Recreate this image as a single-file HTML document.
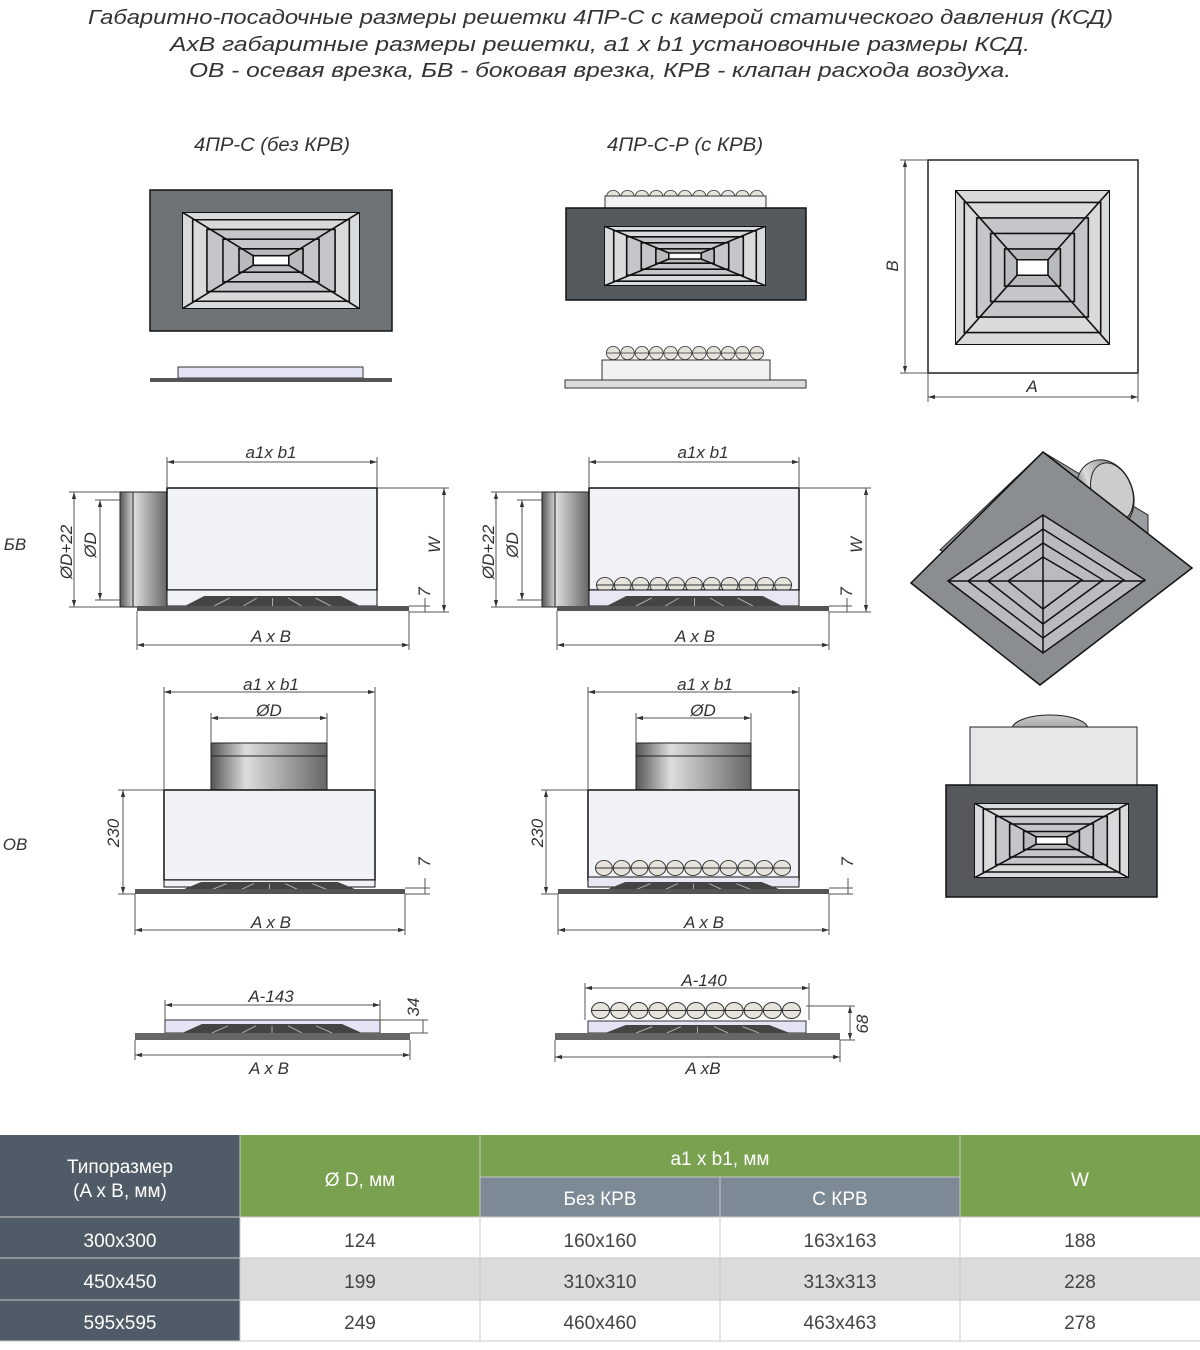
<!DOCTYPE html>
<html><head><meta charset="utf-8"><style>
html,body{margin:0;padding:0;background:#fff}
svg{display:block}
text{font-family:"Liberation Sans","DejaVu Sans",sans-serif}
.it{font-style:italic;fill:#333}
</style></head><body>
<svg width="1200" height="1350" viewBox="0 0 1200 1350" xmlns="http://www.w3.org/2000/svg">
<defs>
<symbol id="pyr" viewBox="0 0 100 100" preserveAspectRatio="none">
 <rect x="0" y="0" width="100" height="100" fill="#d9dadc" stroke="#111" stroke-width="2" vector-effect="non-scaling-stroke"/>
 <g fill="none" stroke="#111" stroke-width="1.6" vector-effect="non-scaling-stroke">
  <rect x="6" y="8" width="88" height="84" vector-effect="non-scaling-stroke"/>
  <rect x="14" y="18" width="72" height="64" fill="#c4c6c9" vector-effect="non-scaling-stroke"/>
  <rect x="23" y="28" width="54" height="44" vector-effect="non-scaling-stroke"/>
  <rect x="32" y="38" width="36" height="24" fill="#b8babd" vector-effect="non-scaling-stroke"/>
  <rect x="40" y="45" width="20" height="10" fill="#fff" vector-effect="non-scaling-stroke"/>
  <path d="M0 0L40 45M100 0L60 45M0 100L40 55M100 100L60 55" vector-effect="non-scaling-stroke"/>
 </g>
</symbol>
<symbol id="balls" viewBox="0 0 198 18" preserveAspectRatio="none">
 <g fill="#e6e2dc" stroke="#333" stroke-width="1" vector-effect="non-scaling-stroke">
  <circle cx="9" cy="9" r="8.5"/><circle cx="27" cy="9" r="8.5"/><circle cx="45" cy="9" r="8.5"/><circle cx="63" cy="9" r="8.5"/><circle cx="81" cy="9" r="8.5"/><circle cx="99" cy="9" r="8.5"/><circle cx="117" cy="9" r="8.5"/><circle cx="135" cy="9" r="8.5"/><circle cx="153" cy="9" r="8.5"/><circle cx="171" cy="9" r="8.5"/><circle cx="189" cy="9" r="8.5"/>
  <path d="M0 9H198" fill="none"/>
 </g>
</symbol>
<symbol id="slats" viewBox="0 0 100 10" preserveAspectRatio="none">
 <path d="M5 10L15 0H85L95 10Z" fill="#444"/>
 <path d="M20 10L28 2M35 10L42 2M50 10V2M65 10L58 2M80 10L72 2" stroke="#aaa" stroke-width="1" vector-effect="non-scaling-stroke"/>
</symbol>
<linearGradient id="pipe" x1="0" y1="0" x2="1" y2="0">
 <stop offset="0" stop-color="#555"/><stop offset="0.3" stop-color="#ddd"/><stop offset="0.6" stop-color="#aaa"/><stop offset="1" stop-color="#666"/>
</linearGradient>
<linearGradient id="pipev" x1="0" y1="0" x2="0" y2="1">
 <stop offset="0" stop-color="#ccc"/><stop offset="1" stop-color="#777"/>
</linearGradient>
<marker id="ar" viewBox="0 0 10 10" refX="10" refY="5" markerWidth="7" markerHeight="7" orient="auto-start-reverse"><path d="M0 2L10 5L0 8Z" fill="#333"/></marker>
</defs>

<!-- Titles -->
<g font-size="20" fill="#444">
<text x="88" y="24" class="it" textLength="1025" lengthAdjust="spacingAndGlyphs">Габаритно-посадочные размеры решетки 4ПР-С с камерой статического давления (КСД)</text>
<text x="170" y="51" class="it" textLength="860" lengthAdjust="spacingAndGlyphs">АхВ габаритные размеры решетки, а1 х b1 установочные размеры КСД.</text>
<text x="189" y="77" class="it" textLength="822" lengthAdjust="spacingAndGlyphs">ОВ - осевая врезка, БВ - боковая врезка, КРВ - клапан расхода воздуха.</text>
</g>
<text x="194" y="151" class="it" font-size="19" textLength="156" lengthAdjust="spacingAndGlyphs">4ПР-С (без КРВ)</text>
<text x="607" y="151" class="it" font-size="19" textLength="156" lengthAdjust="spacingAndGlyphs">4ПР-С-Р (с КРВ)</text>
<text x="15" y="550" class="it" font-size="17" text-anchor="middle">БВ</text>
<text x="15" y="850" class="it" font-size="17" text-anchor="middle">ОВ</text>

<!-- top-left grille -->
<rect x="150" y="190" width="242" height="141" fill="#6e7377" stroke="#111" stroke-width="1.5"/>
<use href="#pyr" x="182" y="212" width="178" height="97"/>
<rect x="178" y="367" width="185" height="11" fill="#e4e4f4" stroke="#333"/>
<rect x="150" y="378" width="242" height="4" fill="#555"/>

<!-- top-middle grille -->
<use href="#balls" x="606" y="190" width="158" height="14"/>
<rect x="605" y="196" width="161" height="12" fill="#f2f2f2" stroke="#333"/>
<rect x="566" y="208" width="240" height="92" fill="#555a5e" stroke="#111" stroke-width="1.5"/>
<use href="#pyr" x="604" y="226" width="162" height="60"/>
<use href="#balls" x="606" y="346" width="158" height="14"/>
<rect x="602" y="360" width="168" height="20" fill="#f2f2f2" stroke="#333"/>
<rect x="565" y="380" width="241" height="8" fill="#ddd" stroke="#333"/>

<!-- top-right square -->
<rect x="928" y="160" width="210" height="213" fill="#fff" stroke="#222" stroke-width="1.5"/>
<use href="#pyr" x="955" y="190" width="155" height="155"/>
<g stroke="#555" stroke-width="1" fill="none">
<line x1="905" y1="160" x2="905" y2="373" marker-start="url(#ar)" marker-end="url(#ar)"/>
<line x1="900" y1="160" x2="928" y2="160"/><line x1="900" y1="373" x2="928" y2="373"/>
<line x1="928" y1="397" x2="1138" y2="397" marker-start="url(#ar)" marker-end="url(#ar)"/>
<line x1="928" y1="373" x2="928" y2="402"/><line x1="1138" y1="373" x2="1138" y2="402"/>
</g>
<text x="1032" y="392" class="it" font-size="17" text-anchor="middle">A</text>
<text transform="translate(898,266) rotate(-90)" class="it" font-size="17" text-anchor="middle">B</text>

<!-- diamond iso -->
<path d="M940 550L1043 452L1148 515V560L1040 600Z" fill="#9a9da0" stroke="#222"/>
<ellipse cx="1105" cy="495" rx="28" ry="36" transform="rotate(-20 1105 495)" fill="url(#pipe)" stroke="#222"/>
<ellipse cx="1112" cy="492" rx="20" ry="30" transform="rotate(-20 1112 492)" fill="#ccc" stroke="#222"/>
<path d="M911 583L1043 452L1192 568L1040 685Z" fill="#8b8e91" stroke="#111" stroke-width="1.5"/>
<path d="M948 581L1043 515L1145 580L1043 653Z" fill="#b9bbbe" stroke="#111" stroke-width="1.5"/>
<g fill="none" stroke="#111" stroke-width="1.5">
<path d="M968 581L1043 529L1124 580L1043 638Z"/>
<path d="M988 581L1043 543L1103 580L1043 624Z"/>
<path d="M1008 581L1043 557L1082 580L1043 609Z"/>
<path d="M948 581H1145M1043 515V653"/>
</g>

<!-- bottom-right iso front -->
<ellipse cx="1050" cy="729" rx="38" ry="14" fill="url(#pipev)" stroke="#222"/>
<rect x="970" y="727" width="167" height="58" fill="#e6e7e8" stroke="#222"/>
<rect x="946" y="785" width="211" height="112" fill="#55595d" stroke="#111" stroke-width="1.5"/>
<use href="#pyr" x="974" y="803" width="155" height="75"/>

<!-- БВ left -->
<rect x="120" y="492" width="47" height="115" fill="url(#pipe)" stroke="#222"/>
<line x1="133" y1="492" x2="133" y2="607" stroke="#222"/>
<rect x="167" y="488" width="210" height="102" fill="#f1f2f6" stroke="#111" stroke-width="1.5"/>
<rect x="167" y="590" width="210" height="16" fill="#f1f2f6" stroke="#111"/>
<use href="#slats" x="175" y="596" width="195" height="10"/>
<rect x="137" y="606" width="272" height="5" fill="#555"/>

<!-- БВ right -->
<rect x="542" y="492" width="47" height="115" fill="url(#pipe)" stroke="#222"/>
<line x1="555" y1="492" x2="555" y2="607" stroke="#222"/>
<rect x="589" y="488" width="210" height="102" fill="#f1f2f6" stroke="#111" stroke-width="1.5"/>
<use href="#balls" x="596" y="577" width="196" height="16"/>
<rect x="589" y="590" width="210" height="16" fill="#e8e8f4" stroke="#111"/>
<use href="#slats" x="597" y="596" width="195" height="10"/>
<rect x="557" y="606" width="272" height="5" fill="#555"/>

<!-- ОВ left -->
<rect x="211" y="743" width="116" height="47" fill="url(#pipe)" stroke="#222"/>
<line x1="211" y1="756" x2="327" y2="756" stroke="#222"/>
<rect x="164" y="790" width="211" height="90" fill="#f1f2f6" stroke="#111" stroke-width="1.5"/>
<rect x="164" y="880" width="211" height="7" fill="#f1f2f6" stroke="#111"/>
<use href="#slats" x="172" y="882" width="195" height="8"/>
<rect x="135" y="889" width="270" height="5" fill="#555"/>

<!-- ОВ right -->
<rect x="636" y="743" width="115" height="47" fill="url(#pipe)" stroke="#222"/>
<line x1="636" y1="756" x2="751" y2="756" stroke="#222"/>
<rect x="588" y="790" width="211" height="90" fill="#f1f2f6" stroke="#111" stroke-width="1.5"/>
<use href="#balls" x="595" y="860" width="196" height="16"/>
<rect x="588" y="877" width="211" height="10" fill="#e8e8f4" stroke="#111"/>
<use href="#slats" x="596" y="882" width="195" height="8"/>
<rect x="558" y="889" width="271" height="5" fill="#555"/>

<!-- bottom left -->
<rect x="165" y="1020" width="215" height="13" fill="#e4e4f4" stroke="#333"/>
<use href="#slats" x="172" y="1024" width="200" height="9"/>
<rect x="135" y="1033" width="275" height="7" fill="#666"/>
<!-- bottom right -->
<use href="#balls" x="591" y="1002" width="210" height="17"/>
<rect x="588" y="1021" width="218" height="12" fill="#e4e4f4" stroke="#333"/>
<use href="#slats" x="595" y="1025" width="205" height="8"/>
<rect x="555" y="1033" width="285" height="7" fill="#666"/>

<!-- dimension lines -->
<g stroke="#555" stroke-width="1" fill="none">
<line x1="167" y1="462" x2="377" y2="462" marker-start="url(#ar)" marker-end="url(#ar)"/>
<line x1="167" y1="457" x2="167" y2="488"/><line x1="377" y1="457" x2="377" y2="488"/>
<line x1="137" y1="645" x2="409" y2="645" marker-start="url(#ar)" marker-end="url(#ar)"/>
<line x1="137" y1="611" x2="137" y2="650"/><line x1="409" y1="611" x2="409" y2="650"/>
<line x1="444" y1="488" x2="444" y2="612" marker-start="url(#ar)" marker-end="url(#ar)"/>
<line x1="377" y1="488" x2="449" y2="488"/><line x1="409" y1="612" x2="449" y2="612"/>
<line x1="425" y1="598" x2="425" y2="612"/><line x1="409" y1="606" x2="430" y2="606"/>
<line x1="74" y1="492" x2="74" y2="607" marker-start="url(#ar)" marker-end="url(#ar)"/>
<line x1="69" y1="492" x2="120" y2="492"/><line x1="69" y1="607" x2="120" y2="607"/>
<line x1="100" y1="500" x2="100" y2="600" marker-start="url(#ar)" marker-end="url(#ar)"/>
<line x1="95" y1="500" x2="120" y2="500"/><line x1="95" y1="600" x2="120" y2="600"/>
<line x1="589" y1="462" x2="799" y2="462" marker-start="url(#ar)" marker-end="url(#ar)"/>
<line x1="589" y1="457" x2="589" y2="488"/><line x1="799" y1="457" x2="799" y2="488"/>
<line x1="557" y1="645" x2="829" y2="645" marker-start="url(#ar)" marker-end="url(#ar)"/>
<line x1="557" y1="611" x2="557" y2="650"/><line x1="829" y1="611" x2="829" y2="650"/>
<line x1="866" y1="488" x2="866" y2="612" marker-start="url(#ar)" marker-end="url(#ar)"/>
<line x1="799" y1="488" x2="871" y2="488"/><line x1="829" y1="612" x2="871" y2="612"/>
<line x1="847" y1="598" x2="847" y2="612"/><line x1="829" y1="606" x2="852" y2="606"/>
<line x1="496" y1="492" x2="496" y2="607" marker-start="url(#ar)" marker-end="url(#ar)"/>
<line x1="491" y1="492" x2="542" y2="492"/><line x1="491" y1="607" x2="542" y2="607"/>
<line x1="522" y1="500" x2="522" y2="600" marker-start="url(#ar)" marker-end="url(#ar)"/>
<line x1="517" y1="500" x2="542" y2="500"/><line x1="517" y1="600" x2="542" y2="600"/>
<line x1="164" y1="692" x2="375" y2="692" marker-start="url(#ar)" marker-end="url(#ar)"/>
<line x1="164" y1="687" x2="164" y2="790"/><line x1="375" y1="687" x2="375" y2="790"/>
<line x1="211" y1="718" x2="327" y2="718" marker-start="url(#ar)" marker-end="url(#ar)"/>
<line x1="211" y1="713" x2="211" y2="743"/><line x1="327" y1="713" x2="327" y2="743"/>
<line x1="135" y1="930" x2="405" y2="930" marker-start="url(#ar)" marker-end="url(#ar)"/>
<line x1="135" y1="894" x2="135" y2="935"/><line x1="405" y1="894" x2="405" y2="935"/>
<line x1="123" y1="790" x2="123" y2="894" marker-start="url(#ar)" marker-end="url(#ar)"/>
<line x1="118" y1="790" x2="164" y2="790"/><line x1="118" y1="894" x2="135" y2="894"/>
<line x1="425" y1="878" x2="425" y2="894"/><line x1="405" y1="888" x2="430" y2="888"/><line x1="405" y1="894" x2="430" y2="894"/>
<line x1="588" y1="692" x2="799" y2="692" marker-start="url(#ar)" marker-end="url(#ar)"/>
<line x1="588" y1="687" x2="588" y2="790"/><line x1="799" y1="687" x2="799" y2="790"/>
<line x1="636" y1="718" x2="751" y2="718" marker-start="url(#ar)" marker-end="url(#ar)"/>
<line x1="636" y1="713" x2="636" y2="743"/><line x1="751" y1="713" x2="751" y2="743"/>
<line x1="558" y1="930" x2="829" y2="930" marker-start="url(#ar)" marker-end="url(#ar)"/>
<line x1="558" y1="894" x2="558" y2="935"/><line x1="829" y1="894" x2="829" y2="935"/>
<line x1="546" y1="790" x2="546" y2="894" marker-start="url(#ar)" marker-end="url(#ar)"/>
<line x1="541" y1="790" x2="588" y2="790"/><line x1="541" y1="894" x2="558" y2="894"/>
<line x1="848" y1="878" x2="848" y2="894"/><line x1="829" y1="888" x2="853" y2="888"/><line x1="829" y1="894" x2="853" y2="894"/>
<line x1="165" y1="1005" x2="380" y2="1005" marker-start="url(#ar)" marker-end="url(#ar)"/>
<line x1="165" y1="1000" x2="165" y2="1020"/><line x1="380" y1="1000" x2="380" y2="1020"/>
<line x1="135" y1="1055" x2="410" y2="1055" marker-start="url(#ar)" marker-end="url(#ar)"/>
<line x1="135" y1="1040" x2="135" y2="1060"/><line x1="410" y1="1040" x2="410" y2="1060"/>
<line x1="423" y1="1020" x2="423" y2="1033"/><line x1="380" y1="1020" x2="428" y2="1020"/><line x1="410" y1="1033" x2="428" y2="1033"/>
<line x1="585" y1="988" x2="809" y2="988" marker-start="url(#ar)" marker-end="url(#ar)"/>
<line x1="585" y1="983" x2="585" y2="1020"/><line x1="809" y1="983" x2="809" y2="1020"/>
<line x1="555" y1="1057" x2="840" y2="1057" marker-start="url(#ar)" marker-end="url(#ar)"/>
<line x1="555" y1="1040" x2="555" y2="1062"/><line x1="840" y1="1040" x2="840" y2="1062"/>
<line x1="850" y1="1006" x2="850" y2="1040" marker-start="url(#ar)" marker-end="url(#ar)"/>
<line x1="806" y1="1006" x2="855" y2="1006"/><line x1="840" y1="1040" x2="855" y2="1040"/>
</g>
<g class="it" font-size="17" text-anchor="middle">
<text x="271" y="458">a1x b1</text>
<text x="271" y="642">A x B</text>
<text x="703" y="458">a1x b1</text>
<text x="695" y="642">A x B</text>
<text x="271" y="690">a1 x b1</text>
<text x="269" y="716">ØD</text>
<text x="271" y="928">A x B</text>
<text x="705" y="690">a1 x b1</text>
<text x="703" y="716">ØD</text>
<text x="704" y="928">A x B</text>
<text x="271" y="1002">A-143</text>
<text x="269" y="1074">A x B</text>
<text x="704" y="986">A-140</text>
<text x="703" y="1074">A xB</text>
<text transform="translate(440,545) rotate(-90)">W</text>
<text transform="translate(862,545) rotate(-90)">W</text>
<text transform="translate(430,592) rotate(-90)">7</text>
<text transform="translate(852,592) rotate(-90)">7</text>
<text transform="translate(430,862) rotate(-90)">7</text>
<text transform="translate(853,862) rotate(-90)">7</text>
<text transform="translate(72,552) rotate(-90)">ØD+22</text>
<text transform="translate(96,545) rotate(-90)">ØD</text>
<text transform="translate(494,552) rotate(-90)">ØD+22</text>
<text transform="translate(518,545) rotate(-90)">ØD</text>
<text transform="translate(119,833) rotate(-90)">230</text>
<text transform="translate(543,833) rotate(-90)">230</text>
<text transform="translate(419,1007) rotate(-90)">34</text>
<text transform="translate(868,1024) rotate(-90)">68</text>
</g>

<!-- Table -->
<rect x="0" y="1135" width="240" height="206" fill="#4f5b66"/>
<rect x="240" y="1135" width="240" height="82" fill="#7aa150"/>
<rect x="480" y="1135" width="480" height="42" fill="#7aa150"/>
<rect x="480" y="1177" width="480" height="40" fill="#7b8a94"/>
<rect x="960" y="1135" width="240" height="82" fill="#7aa150"/>
<rect x="240" y="1217" width="960" height="41" fill="#fff"/>
<rect x="240" y="1258" width="960" height="42" fill="#dcdcdc"/>
<rect x="240" y="1300" width="960" height="41" fill="#fff"/>
<g stroke="#c8c8c8" stroke-width="1">
<line x1="0" y1="1217" x2="1200" y2="1217"/><line x1="0" y1="1258" x2="1200" y2="1258"/><line x1="0" y1="1300" x2="1200" y2="1300"/><line x1="0" y1="1341" x2="1200" y2="1341"/>
<line x1="480" y1="1135" x2="480" y2="1341"/><line x1="720" y1="1177" x2="720" y2="1341"/><line x1="960" y1="1135" x2="960" y2="1341"/><line x1="240" y1="1135" x2="240" y2="1341"/>
<line x1="480" y1="1177" x2="960" y2="1177"/>
</g>
<g font-size="19" text-anchor="middle" fill="#fff">
<text x="120" y="1173">Типоразмер</text>
<text x="120" y="1197">(A x B, мм)</text>
<text x="360" y="1186">Ø D, мм</text>
<text x="720" y="1165">a1 x b1, мм</text>
<text x="600" y="1205">Без КРВ</text>
<text x="840" y="1205">С КРВ</text>
<text x="1080" y="1186">W</text>
<text x="120" y="1247">300x300</text>
<text x="120" y="1288">450x450</text>
<text x="120" y="1329">595x595</text>
</g>
<g font-size="19" text-anchor="middle" fill="#444">
<text x="360" y="1247">124</text><text x="600" y="1247">160x160</text><text x="840" y="1247">163x163</text><text x="1080" y="1247">188</text>
<text x="360" y="1288">199</text><text x="600" y="1288">310x310</text><text x="840" y="1288">313x313</text><text x="1080" y="1288">228</text>
<text x="360" y="1329">249</text><text x="600" y="1329">460x460</text><text x="840" y="1329">463x463</text><text x="1080" y="1329">278</text>
</g>
</svg>
</body></html>
